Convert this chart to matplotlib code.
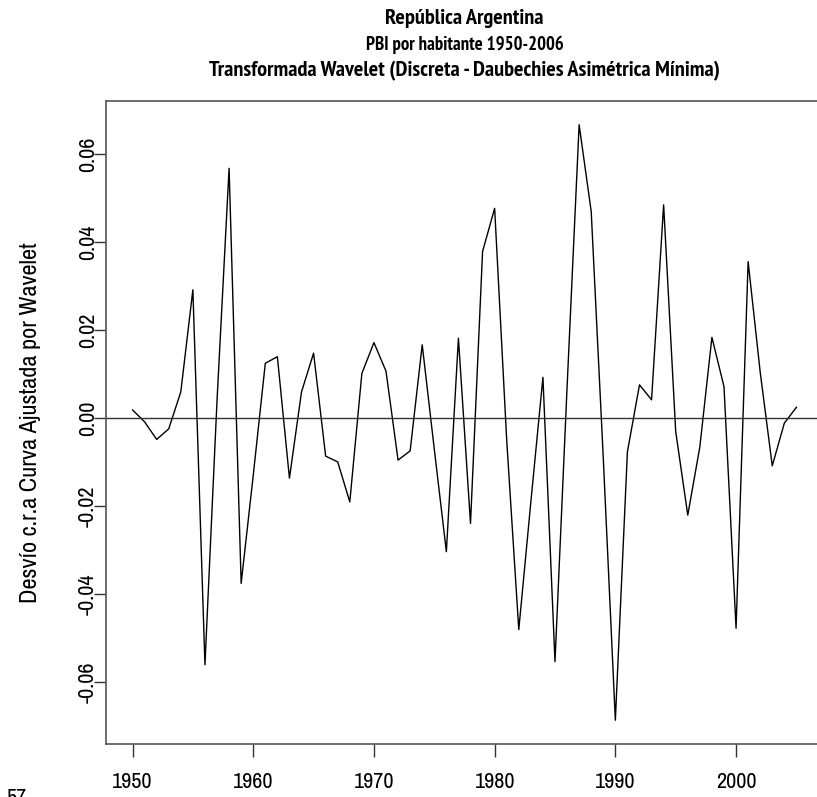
import matplotlib
matplotlib.use("Agg")
import matplotlib.pyplot as plt
import numpy as np

# Data
years = list(range(1950, 2006))
desvio = [0.0019, -0.0008, -0.0048, -0.0024, 0.0060, 0.0292, -0.0560, 0.0040,
          0.0568, -0.0375, -0.0130, 0.0125, 0.0140, -0.0136, 0.0060, 0.0148,
          -0.0086, -0.0099, -0.0190, 0.0102, 0.0172, 0.0107, -0.0095, -0.0074,
          0.0167, -0.0070, -0.0303, 0.0182, -0.0239, 0.0379, 0.0477, -0.0050,
          -0.0480, -0.0190, 0.0093, -0.0553, 0.0070, 0.0667, 0.0470, -0.0090,
          -0.0686, -0.0076, 0.0076, 0.0042, 0.0485, -0.0030, -0.0220, -0.0065,
          0.0184, 0.0072, -0.0477, 0.0356, 0.0105, -0.0108, -0.0011, 0.0025]
xticks = [1950, 1960, 1970, 1980, 1990, 2000]
yticks = [-0.06, -0.04, -0.02, 0.00, 0.02, 0.04, 0.06]

regular = ['Archivo Narrow', 'PT Sans Narrow', 'Liberation Sans', 'DejaVu Sans']
bold = ['PT Sans Narrow', 'Archivo Narrow', 'Liberation Sans', 'DejaVu Sans']
plt.rcParams['font.family'] = regular

fig = plt.figure(figsize=(8.17, 7.97), dpi=100)
ax = fig.add_axes([0.1297, 0.0665, 0.8776, 0.8068])

ax.plot(years, desvio, color='black', linewidth=1.0)
ax.axhline(0, color='#333333', linewidth=1.0)

ax.set_xlim(1947.8, 2007.2)
ax.set_ylim(-0.074, 0.0721)

ax.set_xticks(xticks)
ax.set_xticklabels([str(y) for y in xticks])
ax.set_yticks(yticks)
ax.set_yticklabels(['%.2f' % v for v in yticks], rotation=90, va='center')
ax.tick_params(axis='both', direction='out', length=9, width=1, color='#333333',
               labelsize=16)
ax.tick_params(axis='x', pad=11)
ax.tick_params(axis='y', pad=-3)

for s in ax.spines.values():
    s.set_color('#555555')
    s.set_linewidth(1.2)

ax.set_ylabel('Desvío c.r.a Curva Ajustada por Wavelet', fontsize=17.5, va='center')
ax.yaxis.set_label_coords(-0.1046, 0.5)

cx = 0.1297 + 0.8776 / 2
fig.text(cx, 1 - 18 / 797, 'República Argentina', ha='center', va='center',
         fontsize=16, fontweight='bold', family=bold)
fig.text(cx, 1 - 45 / 797, 'PBI por habitante 1950-2006', ha='center', va='center',
         fontsize=13.5, fontweight='bold', family=bold)
fig.text(cx, 1 - 71 / 797, 'Transformada Wavelet (Discreta - Daubechies Asimétrica Mínima)',
         ha='center', va='center', fontsize=16, fontweight='bold', family=bold)

# label cut at the lower left corner
fig.text(0.008, 1 - 788 / 797, '57', ha='left', va='top', fontsize=16)

fig.savefig('out.png', dpi=100)
